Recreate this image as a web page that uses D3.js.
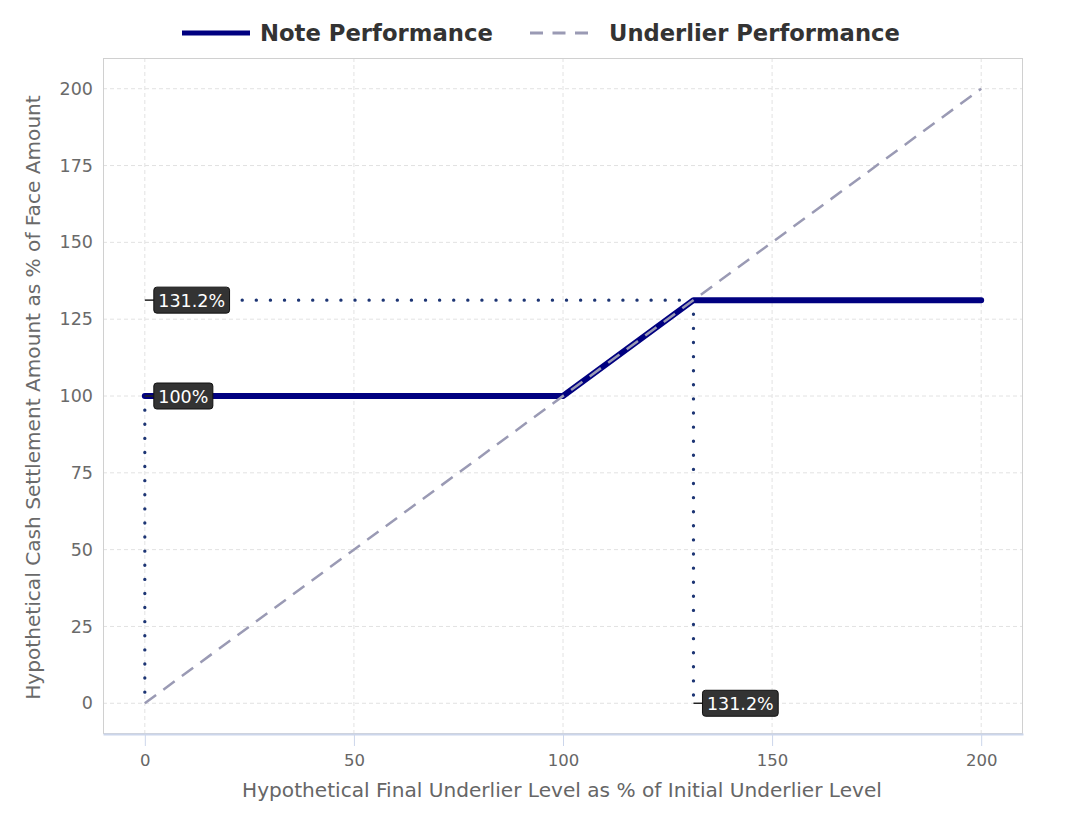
<!DOCTYPE html>
<html><head><meta charset="utf-8">
<script src="https://cdn.jsdelivr.net/npm/d3@7"></script>
<style>body{margin:0;background:#fff}svg{display:block}svg text{font-family:"DejaVu Sans",sans-serif}</style>
</head><body><svg id="c" width="1067" height="818"></svg>
<script>
const noteX = [0, 100, 131.2, 200];
const noteY = [100, 100, 131.2, 131.2];
const underX = [0, 200];
const underY = [0, 200];
const xTicks = [0, 50, 100, 150, 200];
const yTicks = [0, 25, 50, 75, 100, 125, 150, 175, 200];
const cap = 131.2;
const labels = [
  {x: 0, y: 131.2, text: "131.2%"},
  {x: 0, y: 100, text: "100%"},
  {x: 131.2, y: 0, text: "131.2%"}
];
const seriesNames = ["Note Performance", "Underlier Performance"];
const xTitle = "Hypothetical Final Underlier Level as % of Initial Underlier Level";
const yTitle = "Hypothetical Cash Settlement Amount as % of Face Amount";

const svg = d3.select("#c");
const L = 103, R = 1023, T = 58, B = 734;
const x = d3.scaleLinear().domain([-10, 210]).range([L, R]);
const y = d3.scaleLinear().domain([-10, 210]).range([B, T]);

function fit(sel, target) {
  const w = sel.node().getComputedTextLength();
  const fs = parseFloat(sel.style("font-size"));
  sel.style("font-size", (fs * target / w) + "px");
}

// grid
const g = svg.append("g");
g.selectAll(".gx").data(xTicks).join("line")
  .attr("x1", d => x(d)).attr("x2", d => x(d)).attr("y1", T).attr("y2", B)
  .attr("stroke", "#e2e2e2").attr("stroke-dasharray", "4,3");
g.selectAll(".gy").data(yTicks).join("line")
  .attr("x1", L).attr("x2", R).attr("y1", d => y(d)).attr("y2", d => y(d))
  .attr("stroke", "#e2e2e2").attr("stroke-dasharray", "4,3");
svg.append("rect").attr("x", L + 0.5).attr("y", T + 0.5).attr("width", R - L - 1).attr("height", B - T - 1)
  .attr("fill", "none").attr("stroke", "#d0d0d0");

// x axis
const xa = svg.append("g").attr("transform", `translate(0,${B})`)
  .call(d3.axisBottom(x).tickValues(xTicks).tickSize(12).tickSizeOuter(0).tickPadding(8));
xa.select(".domain").attr("stroke", "#ccd6eb").attr("stroke-width", 2);
xa.selectAll(".tick line").attr("stroke", "#ccd6eb");
xa.selectAll("text").attr("fill", "#666").style("font-size", "16.5px");

const ya = svg.append("g").attr("transform", `translate(${L},0)`)
  .call(d3.axisLeft(y).tickValues(yTicks).tickSize(0).tickPadding(10));
ya.select(".domain").remove();
ya.selectAll("text").attr("fill", "#6a6a6a").style("font-size", "17.5px");

const xt = svg.append("text").attr("x", 562).attr("y", 797).attr("text-anchor", "middle")
  .attr("fill", "#666").style("font-size", "17px").text(xTitle);
fit(xt, 640);
const yt = svg.append("text").attr("transform", `translate(40,397.5) rotate(-90)`).attr("text-anchor", "middle")
  .attr("fill", "#6a6a6a").style("font-size", "17px").text(yTitle);
fit(yt, 605);

// dotted reference lines
const dot = svg.append("g").attr("stroke", "#1d3574").attr("stroke-width", 3.3)
  .attr("stroke-linecap", "round").attr("stroke-dasharray", "0.1,14").attr("fill", "none");
dot.append("line").attr("x1", x(cap)).attr("x2", x(0) + 12).attr("y1", y(cap)).attr("y2", y(cap));
dot.append("line").attr("x1", x(cap)).attr("x2", x(cap)).attr("y1", y(cap)).attr("y2", y(0));
dot.append("line").attr("x1", x(0)).attr("x2", x(0)).attr("y1", y(100)).attr("y2", y(0));

const line = d3.line().x(d => x(d[0])).y(d => y(d[1]));
svg.append("path").datum(noteX.map((v, i) => [v, noteY[i]])).attr("d", line)
  .attr("fill", "none").attr("stroke", "#000080").attr("stroke-width", 6).attr("stroke-linecap", "round").attr("stroke-linejoin", "round");
svg.append("path").datum(underX.map((v, i) => [v, underY[i]])).attr("d", line)
  .attr("fill", "none").attr("stroke", "#9a9ab4").attr("stroke-width", 2.5).attr("stroke-dasharray", "14,9");

// labels
const lg = svg.append("g").selectAll("g").data(labels).join("g")
  .attr("transform", d => `translate(${x(d.x)},${y(d.y)})`);
lg.append("line").attr("x1", 0).attr("x2", 10).attr("y1", 0).attr("y2", 0).attr("stroke", "#222").attr("stroke-width", 1.5);
lg.each(function(d) {
  const gg = d3.select(this);
  const t = gg.append("text").attr("x", 13.5).attr("y", 6.5).attr("fill", "#fff").style("font-size", "17.5px").text(d.text);
  const w = t.node().getComputedTextLength();
  gg.insert("rect", "text").attr("x", 9).attr("y", -13).attr("width", w + 9).attr("height", 26).attr("rx", 3)
    .attr("fill", "#333").attr("stroke", "#111").attr("stroke-width", 1);
});

// legend
const leg = svg.append("g").attr("transform", "translate(0,33)");
leg.append("line").attr("x1", 182).attr("x2", 250).attr("y1", 0).attr("y2", 0).attr("stroke", "#000080").attr("stroke-width", 5);
const l1 = leg.append("text").attr("x", 260).attr("y", 7.5).attr("fill", "#333").style("font-size", "20px").style("font-weight", "bold").text(seriesNames[0]);
fit(l1, 233);
leg.append("line").attr("x1", 530).attr("x2", 596).attr("y1", 0).attr("y2", 0).attr("stroke", "#9a9ab4").attr("stroke-width", 3).attr("stroke-dasharray", "13,9.5");
const l2 = leg.append("text").attr("x", 609).attr("y", 7.5).attr("fill", "#333").style("font-size", "20px").style("font-weight", "bold").text(seriesNames[1]);
fit(l2, 291);
</script></body></html>
